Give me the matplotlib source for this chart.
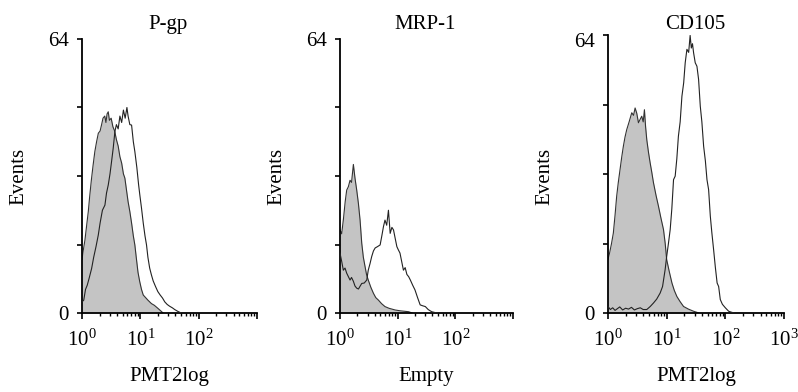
import numpy as np
import matplotlib
matplotlib.use("Agg")
import matplotlib.pyplot as plt
import matplotlib.transforms as mtransforms
from matplotlib.ticker import LogLocator, NullFormatter

plt.rcParams['font.family'] = ['Liberation Serif', 'DejaVu Serif']
plt.rcParams['mathtext.fontset'] = 'custom'
plt.rcParams['mathtext.rm'] = 'Liberation Serif'
plt.rcParams['mathtext.it'] = 'Liberation Serif:italic'
plt.rcParams['mathtext.bf'] = 'Liberation Serif:bold'

# ---------------- data (log10 channel, events) ----------------
titles = ["P-gp", "MRP-1", "CD105"]
xlabels = ["PMT2log", "Empty", "PMT2log"]
ylabel = "Events"
y_ticks = [0, 16, 32, 48, 64]
y_ticklabels = ["0", "", "", "", "64"]
x_ticks = [1, 10, 100, 1000]
x_ticklabels_12 = [r"$10^{0}$", r"$10^{1}$", r"$10^{2}$", ""]
x_ticklabels_3 = [r"$10^{0}$", r"$10^{1}$", r"$10^{2}$", r"$10^{3}$"]

pgp_iso_log = [0, 0.02, 0.05, 0.08, 0.108, 0.13, 0.16, 0.19, 0.22, 0.25, 0.28, 0.31, 0.336, 0.36,
               0.39, 0.41, 0.43, 0.45, 0.47, 0.5, 0.53, 0.56, 0.59, 0.62, 0.65, 0.68, 0.71, 0.735,
               0.76, 0.79, 0.82, 0.85, 0.88, 0.906, 0.93, 0.96, 0.99, 1.02, 1.05, 1.09, 1.13, 1.19,
               1.24, 1.30, 1.35, 1.39]
pgp_iso_val = [12.5, 14.5, 17, 20.5, 23.7, 27, 31, 34.5, 37.7, 40, 42, 42.5, 44, 45.5,
               46, 44.5, 46.5, 47, 45, 45.5, 43.5, 42.5, 40.5, 39, 36.5, 35, 32.5, 31.5,
               29, 26, 23.7, 21, 18, 15.9, 13, 9.5, 7.3, 5.5, 4.2, 3.6, 3, 2.2,
               1.8, 1.1, 0.5, 0]

pgp_log = [0, 0.03, 0.06, 0.09, 0.12, 0.165, 0.2, 0.24, 0.279, 0.31, 0.35, 0.393, 0.42, 0.45,
           0.48, 0.507, 0.535, 0.564, 0.59, 0.62, 0.65, 0.68, 0.71, 0.74, 0.77, 0.79, 0.82,
           0.85, 0.88, 0.906, 0.94, 0.97, 0.991, 1.02, 1.05, 1.08, 1.106, 1.13, 1.16, 1.19,
           1.22, 1.26, 1.30, 1.34, 1.38, 1.419, 1.46, 1.5, 1.55, 1.59, 1.64, 1.70]
pgp_val = [2.6, 3, 5.5, 6.5, 8, 10.4, 13, 15.5, 18.2, 21, 24, 25.2, 28, 29.9,
           32.5, 35.4, 38.5, 42.4, 44, 43, 46, 44.5, 47.4, 45.5, 48, 46, 44,
           43.9, 40, 37.7, 34, 30, 27.6, 24.5, 21, 18, 15.9, 13, 10.5, 8.9,
           7.5, 6.2, 5, 4.2, 3.5, 2.6, 2, 1.6, 1.2, 0.8, 0.4, 0]

mrp_iso_log = [0, 0.029, 0.06, 0.09, 0.116, 0.145, 0.174, 0.2, 0.232, 0.26, 0.29, 0.319, 0.348,
               0.377, 0.405, 0.435, 0.46, 0.49, 0.535, 0.58, 0.62, 0.667, 0.72, 0.78, 0.85,
               0.957, 1.05, 1.19, 1.25]
mrp_iso_val = [19.4, 18.5, 22, 26, 28.7, 29.5, 31, 30.5, 34.7, 31.5, 28.7, 25.6, 21.7,
               16.3, 13, 10.8, 9, 7.7, 6, 4.6, 3.6, 3, 2.2, 1.5, 1.1,
               0.7, 0.5, 0.3, 0]

mrp_log = [0, 0.03, 0.058, 0.087, 0.116, 0.145, 0.174, 0.2, 0.232, 0.26, 0.29, 0.32, 0.35,
           0.377, 0.42, 0.464, 0.49, 0.52, 0.55, 0.58, 0.61, 0.65, 0.696, 0.725, 0.754, 0.78,
           0.81, 0.84, 0.87, 0.9, 0.928, 0.956, 0.986, 1.01, 1.04, 1.07, 1.1, 1.13, 1.16, 1.19,
           1.22, 1.26, 1.3, 1.345, 1.39, 1.43, 1.48, 1.53, 1.59, 1.65, 1.7]
mrp_val = [14, 12, 10, 10.5, 9.3, 8.5, 7.7, 8.3, 7.4, 6.3, 5.8, 5.6, 6.3,
           6.9, 7, 7.7, 10, 11.5, 13.2, 14.5, 15.2, 15.5, 15.9, 18, 20.2, 21.7,
           20.5, 24, 18.6, 20, 19.4, 17.5, 15.5, 14.8, 14, 12, 10, 10.6, 9, 8.5,
           7.7, 6.5, 5.4, 3.6, 1.9, 1.7, 1.5, 0.8, 0.3, 0.1, 0]

cd_iso_log = [0, 0.03, 0.06, 0.091, 0.12, 0.148, 0.175, 0.205, 0.235, 0.262, 0.29, 0.319, 0.36,
              0.405, 0.435, 0.462, 0.49, 0.519, 0.545, 0.575, 0.6, 0.621, 0.64, 0.661, 0.69,
              0.718, 0.745, 0.775, 0.82, 0.86, 0.9, 0.946, 0.975, 1.0, 1.045, 1.09, 1.13,
              1.174, 1.23, 1.288, 1.37, 1.459, 1.55]
cd_iso_val = [12.3, 14, 16, 18.4, 22.5, 26.9, 30, 33, 36, 38.4, 40.5, 42.2, 44,
              46.1, 45.5, 47.2, 46, 43.8, 44.5, 45.3, 44, 46.8, 43, 39.9, 37,
              34.6, 32.5, 30, 27, 24.6, 22, 19.2, 16, 12.3, 9.5, 6.9, 5.2,
              3.8, 2.6, 1.5, 0.9, 0.4, 0]

cd_log = [0, 0.04, 0.08, 0.12, 0.16, 0.2, 0.25, 0.3, 0.35, 0.4, 0.45, 0.5, 0.55, 0.6, 0.661,
          0.72, 0.775, 0.83, 0.889, 0.93, 0.974, 1.0, 1.03, 1.06, 1.088, 1.117, 1.145, 1.173,
          1.2, 1.23, 1.26, 1.29, 1.316, 1.345, 1.375, 1.4, 1.42, 1.44, 1.459, 1.487, 1.516,
          1.544, 1.573, 1.6, 1.63, 1.66, 1.687, 1.715, 1.744, 1.77, 1.8, 1.83, 1.86, 1.886,
          1.914, 1.95, 2.0, 2.057, 2.1, 2.15]
cd_val = [1.5, 0.8, 1.2, 0.6, 1.0, 1.4, 0.7, 1.1, 0.9, 1.3, 0.7, 1.0, 1.2, 0.8, 0.8,
          1.5, 2.3, 3.2, 4.6, 6.1, 10, 13, 16, 19.2, 24, 30.7, 31.5, 35.5,
          40.7, 44, 49.9, 53, 57.6, 60.7, 60, 63.9, 61, 62, 59.9, 57.6, 56.8,
          53.8, 47.6, 44, 38.4, 35, 30.7, 28.4, 22.3, 18.5, 14.6, 10.5, 6.9, 6.1,
          3.1, 2, 1.2, 0.4, 0.2, 0]

panels = [
    (pgp_iso_log, pgp_iso_val, pgp_log, pgp_val),
    (mrp_iso_log, mrp_iso_val, mrp_log, mrp_val),
    (cd_iso_log, cd_iso_val, cd_log, cd_val),
]

# ---------------- layout (pixels) ----------------
W, H = 798, 392
fig = plt.figure(figsize=(W / 100, H / 100), dpi=100)
rects_px = [(82, 39, 175, 274), (340, 39, 173, 274), (608, 35, 176, 278)]
title_x_px = [168, 425, 695]

FS = 15
for i, (iso_l, iso_v, s_l, s_v) in enumerate(panels):
    lx, ty, wpx, hpx = rects_px[i]
    ax = fig.add_axes([lx / W, (H - ty - hpx) / H, wpx / W, hpx / H])
    xi = 10 ** np.array(iso_l)
    xs = 10 ** np.array(s_l)
    ax.fill_between(xi, iso_v, 0, color='#c4c4c4', lw=0, zorder=1)
    ax.plot(xi, iso_v, color='#333333', lw=0.8, zorder=2)
    ax.plot(xs, s_v, color='#222222', lw=0.8, zorder=3)

    ax.set_xscale('log')
    ax.set_xlim(1, 1000)
    ax.set_ylim(0, 64)
    for s in ['top', 'right']:
        ax.spines[s].set_visible(False)
    for s in ['left', 'bottom']:
        ax.spines[s].set_linewidth(1.3)
        ax.spines[s].set_color('black')
    ax.set_yticks(y_ticks)
    ax.set_yticklabels(y_ticklabels)
    ax.set_xticks(x_ticks)
    ax.set_xticklabels(x_ticklabels_3 if i == 2 else x_ticklabels_12)
    ax.xaxis.set_minor_locator(LogLocator(base=10, subs=np.arange(2, 10), numticks=20))
    ax.xaxis.set_minor_formatter(NullFormatter())
    ax.tick_params(axis='x', which='major', direction='out', length=4, width=1.2,
                   labelsize=FS, pad=8)
    ax.tick_params(axis='x', which='minor', direction='out', length=2.5, width=1.0)
    ax.tick_params(axis='y', which='major', direction='out', length=3.5, width=1.2,
                   labelsize=FS, pad=6)

    if i == 2:
        lab = ax.get_yticklabels()[-1]
        lab.set_transform(lab.get_transform() +
                          mtransforms.ScaledTranslation(0, -5 / 100, fig.dpi_scale_trans))

    ax.set_ylabel(ylabel, fontsize=FS, va='center')
    ax.yaxis.set_label_coords(-63 / wpx, (ty + hpx - 176) / hpx)
    ax.set_xlabel(xlabels[i], fontsize=FS, va='center')
    ax.xaxis.set_label_coords(0.5, -(377 - (ty + hpx)) / hpx)

    fig.text(title_x_px[i] / W, 1 - 29 / H, titles[i], ha='center', va='baseline',
             fontsize=FS)

fig.savefig("out.png", dpi=100)
